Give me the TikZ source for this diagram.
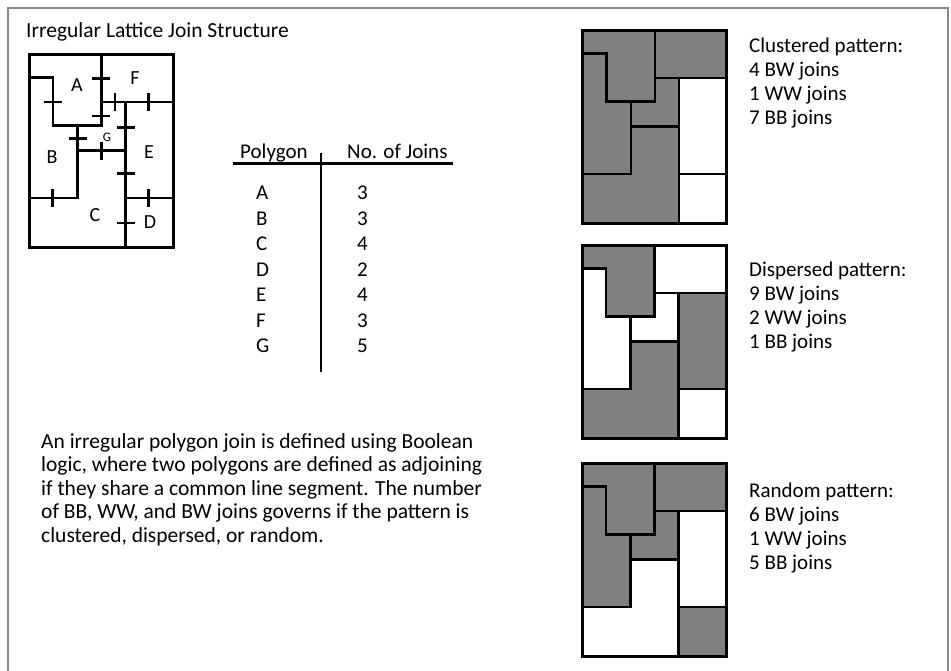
\documentclass[tikz,border=0pt]{standalone}
\usepackage{fontspec}
\setmainfont{Carlito}
\definecolor{tilegray}{HTML}{808080}
\definecolor{framegray}{HTML}{8A8A8A}
\newcommand\tXa{24}
\newcommand\tXb{48.5}
\newcommand\tXc{72.5}
\newcommand\tXd{96.5}
\newcommand\tWd{144}
\newcommand\tYa{23.5}
\newcommand\tYb{48}
\newcommand\tYc{71.5}
\newcommand\tYd{96.5}
\newcommand\tYe{144}
\newcommand\tHt{193}
\newcommand\regA{(0,0) -- (\tXc,0) -- (\tXc,\tYc) -- (\tXa,\tYc) -- (\tXa,\tYa) -- (0,\tYa) -- cycle}
\newcommand\regF{(\tXc,0) -- (\tWd,0) -- (\tWd,\tYb) -- (\tXc,\tYb) -- cycle}
\newcommand\regB{(0,\tYa) -- (\tXa,\tYa) -- (\tXa,\tYc) -- (\tXb,\tYc) -- (\tXb,\tYe) -- (0,\tYe) -- cycle}
\newcommand\regG{(\tXb,\tYc) -- (\tXc,\tYc) -- (\tXc,\tYb) -- (\tXd,\tYb) -- (\tXd,\tYd) -- (\tXb,\tYd) -- cycle}
\newcommand\regE{(\tXd,\tYb) -- (\tWd,\tYb) -- (\tWd,\tYe) -- (\tXd,\tYe) -- cycle}
\newcommand\regC{(0,\tYe) -- (\tXb,\tYe) -- (\tXb,\tYd) -- (\tXd,\tYd) -- (\tXd,\tHt) -- (0,\tHt) -- cycle}
\newcommand\regD{(\tXd,\tYe) -- (\tWd,\tYe) -- (\tWd,\tHt) -- (\tXd,\tHt) -- cycle}
% #1 shift, #2..#8 fills of A B C D E F G
\newcommand\tiling[8]{%
  \begin{scope}[shift={#1}]
    \filldraw[region, fill=#2] \regA;
    \filldraw[region, fill=#3] \regB;
    \filldraw[region, fill=#4] \regC;
    \filldraw[region, fill=#5] \regD;
    \filldraw[region, fill=#6] \regE;
    \filldraw[region, fill=#7] \regF;
    \filldraw[region, fill=#8] \regG;
    \draw[outerbox] (0,0) rectangle (\tWd,\tHt);
  \end{scope}}
\begin{document}
\begin{tikzpicture}[x=1pt,y=-1pt,
  region/.style={draw=black, line width=2.4pt, line join=miter},
  outerbox/.style={draw=black, line width=3pt},
  jointick/.style={line width=2.4pt},
  txt/.style={font=\fontsize{21}{25}\selectfont, inner sep=0pt, anchor=base west},
  bigtxt/.style={txt, font=\fontsize{21.5}{25}\selectfont},
  lattlbl/.style={font=\fontsize{20}{24}\selectfont, inner sep=0pt},
  rule/.style={line width=2.4pt}]
\useasboundingbox (0,0) rectangle (951,670);
\fill[white] (0,0) rectangle (951,670);
% frame
\draw[framegray, line width=2.5pt] (8,675) -- (8,8) -- (948,8) -- (948,675);
% title
\node[bigtxt] (title) at (26,37.7) {Irregular Lattice Join Structure};
% lattice
\begin{scope}[shift={(29,54)}]
  \filldraw[region, fill=white] \regA;
  \filldraw[region, fill=white] \regB;
  \filldraw[region, fill=white] \regC;
  \filldraw[region, fill=white] \regD;
  \filldraw[region, fill=white] \regE;
  \filldraw[region, fill=white] \regF;
  \filldraw[region, fill=white] \regG;
  \draw[outerbox] (0,0) rectangle (\tWd,\tHt);
  % horizontal ticks across vertical boundaries
  \foreach \px/\py in {72/24.3, 24/47.7, 72/62, 97/73.3, 48.5/84.3, 97/119.3, 97/168.7}
    \draw[jointick] (\px-9,\py) -- (\px+9,\py);
  % vertical ticks across horizontal boundaries
  \foreach \px/\py in {86/48, 119.3/48, 72.5/96.5, 23.3/144, 119.3/144}
    \draw[jointick] (\px,\py-9) -- (\px,\py+9);
  \node[lattlbl] (la) at (48,31) {A};
  \node[lattlbl] (lf) at (106,24) {F};
  \node[lattlbl, font=\fontsize{13}{15}\selectfont] (lg) at (78,83) {G};
  \node[lattlbl] (lb) at (23,103) {B};
  \node[lattlbl] (le) at (120,98) {E};
  \node[lattlbl] (lc) at (66,161) {C};
  \node[lattlbl] (ld) at (121,168) {D};
\end{scope}
% table
\node[txt] (hpoly) at (240,158) {Polygon};
\node[txt] (hjoin) at (347,158) {No. of Joins};
\draw[rule] (233,163.5) -- (453,163.5);
\draw[rule] (321,153) -- (321,372);
\foreach \p/\n [count=\i] in {A/3, B/3, C/4, D/2, E/4, F/3, G/5} {
  \node[txt] (tp\i) at (256,{199.5+25.5*(\i-1)}) {\p};
  \node[txt] (tn\i) at (357,{199.5+25.5*(\i-1)}) {\n};
}
% body text
\foreach \t [count=\i] in {{An irregular polygon join is defined using Boolean},
  {logic, where two polygons are defined as adjoining},
  {if they share a common line segment. The number},
  {of BB, WW, and BW joins governs if the pattern is},
  {clustered, dispersed, or random.}}
  \node[bigtxt] (body\i) at (41,{448+23.5*(\i-1)}) {\t};
% patterns
\tiling{(582.3,30)}{tilegray}{tilegray}{tilegray}{white}{white}{tilegray}{tilegray}
\tiling{(582,245)}{tilegray}{white}{tilegray}{white}{tilegray}{white}{white}
\tiling{(582,463)}{tilegray}{tilegray}{white}{tilegray}{white}{tilegray}{tilegray}
% pattern labels
\foreach \t [count=\i] in {Clustered pattern:, 4 BW joins, 1 WW joins, 7 BB joins}
  \node[txt] (cl\i) at (749,{52+24*(\i-1)}) {\t};
\foreach \t [count=\i] in {Dispersed pattern:, 9 BW joins, 2 WW joins, 1 BB joins}
  \node[txt] (dl\i) at (749,{276+24*(\i-1)}) {\t};
\foreach \t [count=\i] in {Random pattern:, 6 BW joins, 1 WW joins, 5 BB joins}
  \node[txt] (rl\i) at (749,{497+24*(\i-1)}) {\t};
\end{tikzpicture}
\end{document}
